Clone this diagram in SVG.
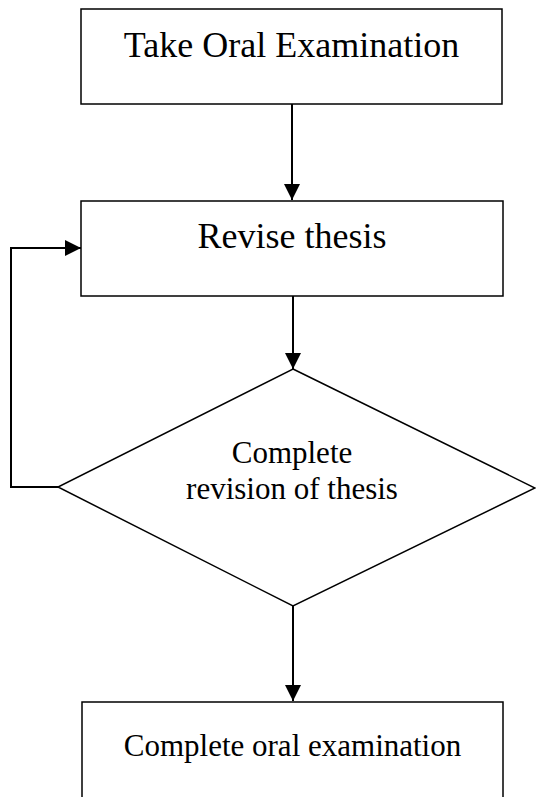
<svg xmlns="http://www.w3.org/2000/svg" width="536" height="797" viewBox="0 0 536 797">
<style>
.box{fill:#fff;stroke:#000;stroke-width:1.5}
.ln{fill:none;stroke:#000;stroke-width:2}
.t{font-family:"Liberation Serif","Times New Roman",serif;fill:#000;text-anchor:middle}
</style>
<defs>
<marker id="ah" markerUnits="userSpaceOnUse" markerWidth="16" markerHeight="16" viewBox="0 0 16 16" refX="16" refY="8" orient="auto">
<path d="M0,0 L16,8 L0,16 Z" fill="#000"/>
</marker>
</defs>
<rect width="536" height="797" fill="#fff"/>
<g id="connectors">
<path class="ln" d="M292,104 V200" marker-end="url(#ah)"/>
<path class="ln" d="M293,296 V369" marker-end="url(#ah)"/>
<path class="ln" d="M293,606 V701" marker-end="url(#ah)"/>
<path class="ln" d="M58,487 H11 V248 H81" marker-end="url(#ah)"/>
</g>
<g id="take-oral">
<rect class="box" x="81" y="9" width="421" height="95"/>
<text class="t" x="291.5" y="57" font-size="36">Take Oral Examination</text>
</g>
<g id="revise">
<rect class="box" x="81" y="201" width="422" height="95"/>
<text class="t" x="292" y="248" font-size="36">Revise thesis</text>
</g>
<g id="decision">
<polygon class="box" points="293,369 535,488 293,606 58,487"/>
<text class="t" x="292" y="463" font-size="31">Complete</text>
<text class="t" x="292" y="499" font-size="31">revision of thesis</text>
</g>
<g id="complete-oral">
<rect class="box" x="82" y="702" width="421" height="97"/>
<text class="t" x="292.5" y="756" font-size="31">Complete oral examination</text>
</g>
</svg>
